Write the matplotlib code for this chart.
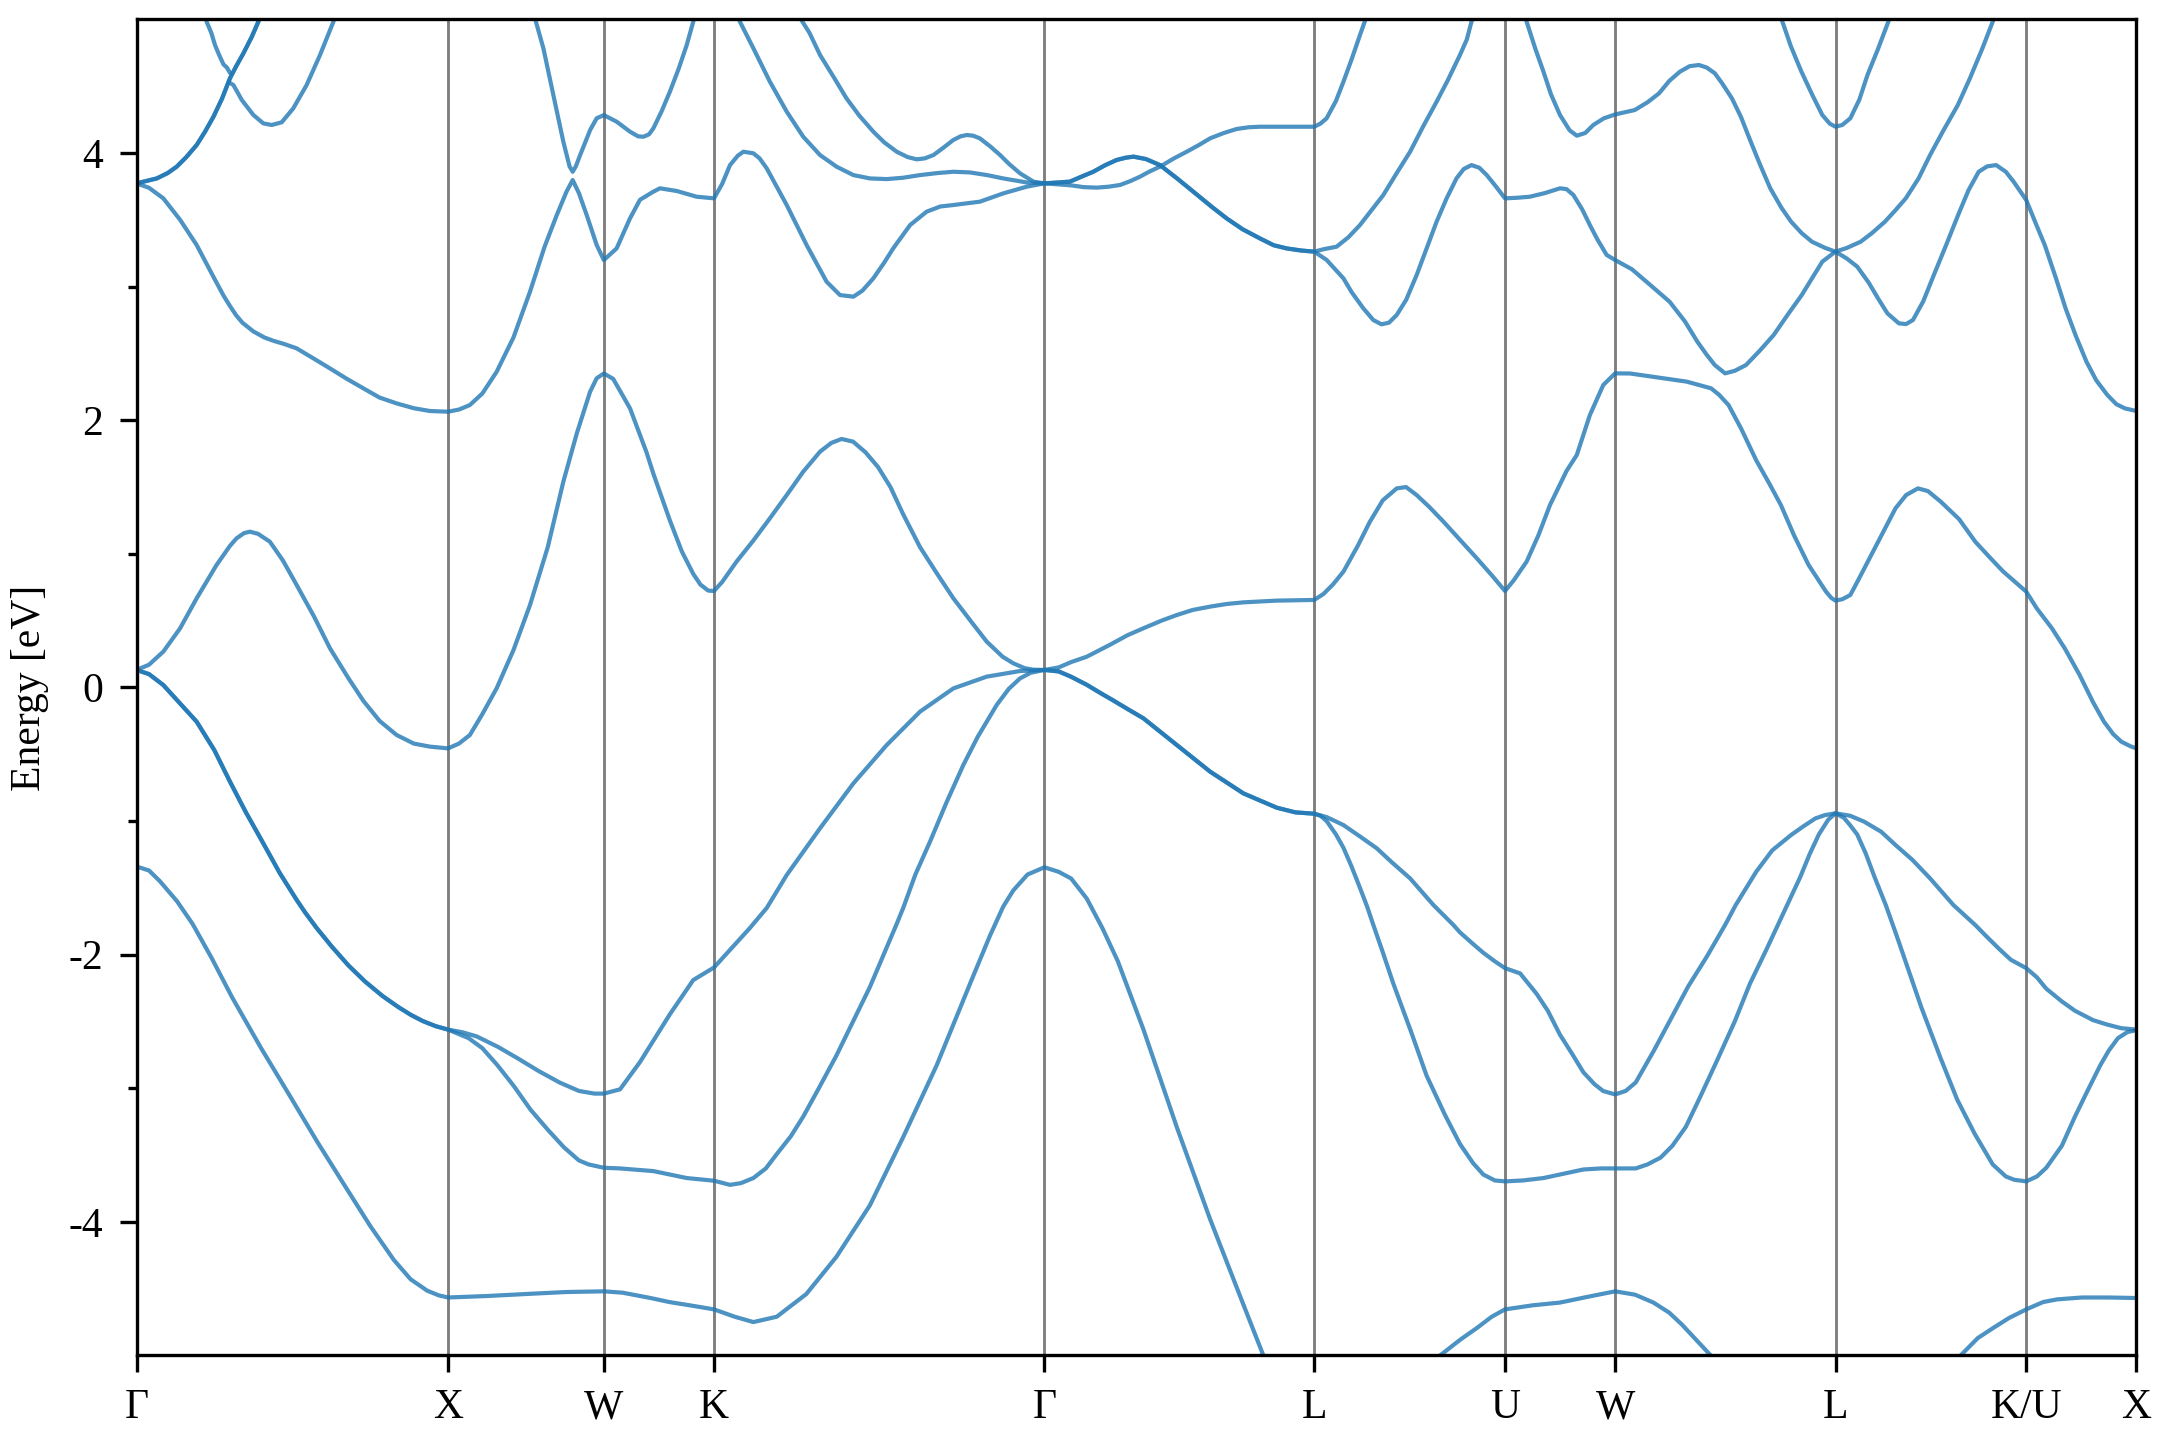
"""Electronic band structure along the FCC high-symmetry path."""

import numpy as np
import matplotlib
matplotlib.use("Agg")
import matplotlib.pyplot as plt

plt.rcParams["font.family"] = ["Liberation Serif", "DejaVu Serif"]
plt.rcParams["axes.unicode_minus"] = False

# high-symmetry path, segment lengths in units of 2*pi/a
seg_len = [1.0, 0.5, 0.3536, 1.0607, 0.8660, 0.6124, 0.3536, 0.7071, 0.6124, 0.3536]
node_labels = ["Γ", "X", "W", "K", "Γ", "L", "U", "W", "L", "K/U", "X"]
node_k = np.concatenate([[0.0], np.cumsum(seg_len)])

nan = np.nan

# lowest band (three visible pieces)
b1_k = [0, 0.04, 0.075, 0.13, 0.18, 0.24, 0.307, 0.40, 0.493, 0.58, 0.666, 0.75, 0.826, 0.88,
        0.933, 0.97, 1.0, 1.125, 1.25, 1.38, 1.5, 1.56, 1.65, 1.71, 1.79, 1.8536, 1.92, 1.98,
        2.055, 2.15, 2.247, 2.354, 2.461, 2.568, 2.675, 2.739, 2.782, 2.814, 2.86, 2.9142, 2.96,
        3.0, 3.05, 3.10, 3.15, 3.232, 3.339, 3.446, 3.553, 3.617, 3.66,
        nan, 4.12, 4.184, 4.25, 4.302, 4.35, 4.3926, 4.48, 4.569, 4.66, 4.7462, 4.81, 4.869, 4.92,
        4.961, 5.053, 5.10,
        nan, 5.80, 5.855, 5.91, 5.959, 6.01, 6.0657, 6.12, 6.165, 6.245, 6.33, 6.4193]
b1_e = [-1.34, -1.37, -1.45, -1.60, -1.77, -2.02, -2.32, -2.70, -3.06, -3.40, -3.72, -4.03, -4.285,
        -4.43, -4.515, -4.55, -4.566, -4.555, -4.54, -4.525, -4.52, -4.53, -4.57, -4.60, -4.63,
        -4.655, -4.71, -4.75, -4.71, -4.54, -4.26, -3.876, -3.365, -2.83, -2.22, -1.86, -1.64,
        -1.52, -1.40, -1.346, -1.38, -1.43, -1.58, -1.80, -2.05, -2.56, -3.29, -3.98, -4.62, -5.0,
        -5.25,
        nan, -5.11, -5.0, -4.88, -4.795, -4.71, -4.655, -4.625, -4.604, -4.56, -4.52, -4.545,
        -4.604, -4.68, -4.77, -5.0, -5.12,
        nan, -5.14, -5.0, -4.87, -4.795, -4.72, -4.655, -4.60, -4.58, -4.566, -4.566, -4.57]

# valence pair: Gamma-X (degenerate)
vgx_k = [0, 0.04, 0.086, 0.14, 0.193, 0.25, 0.30, 0.35, 0.407, 0.46, 0.514, 0.54, 0.578, 0.627,
         0.68, 0.733, 0.79, 0.839, 0.88, 0.919, 0.96, 1.0]
vgx_e = [0.131, 0.10, 0.018, -0.12, -0.256, -0.47, -0.705, -0.93, -1.167, -1.39, -1.59, -1.68,
         -1.80, -1.94, -2.08, -2.20, -2.31, -2.39, -2.45, -2.497, -2.535, -2.561]
# X - W - K - Gamma, upper branch
vup_k = [1.0, 1.045, 1.092, 1.16, 1.225, 1.29, 1.358, 1.42, 1.47, 1.5, 1.552, 1.616, 1.66, 1.712,
         1.787, 1.8536, 1.926, 1.969, 2.023, 2.087, 2.194, 2.301, 2.408, 2.515, 2.622, 2.729,
         2.836, 2.9142]
vup_e = [-2.561, -2.58, -2.612, -2.69, -2.778, -2.87, -2.957, -3.02, -3.04, -3.04, -3.008, -2.804,
         -2.64, -2.446, -2.19, -2.096, -1.91, -1.80, -1.65, -1.404, -1.054, -0.718, -0.431,
         -0.181, -0.007, 0.081, 0.123, 0.131]
# X - W - K - Gamma, lower branch
vlo_k = [1.0, 1.03, 1.066, 1.11, 1.159, 1.21, 1.265, 1.32, 1.372, 1.42, 1.451, 1.48, 1.5, 1.552,
         1.659, 1.766, 1.8536, 1.905, 1.94, 1.98, 2.02, 2.055, 2.10, 2.14, 2.19, 2.247, 2.30,
         2.354, 2.40, 2.44, 2.461, 2.50, 2.547, 2.60, 2.654, 2.70, 2.761, 2.80, 2.836, 2.87, 2.9142]
vlo_e = [-2.561, -2.59, -2.625, -2.70, -2.829, -2.98, -3.161, -3.31, -3.442, -3.54, -3.57, -3.585,
         -3.595, -3.60, -3.62, -3.672, -3.692, -3.723, -3.71, -3.672, -3.60, -3.493, -3.36,
         -3.212, -3.0, -2.753, -2.50, -2.242, -1.99, -1.77, -1.65, -1.40, -1.154, -0.86, -0.58,
         -0.37, -0.131, -0.01, 0.068, 0.11, 0.131]
# Gamma - L (degenerate)
vgl_k = [2.9142, 2.96, 3.0, 3.05, 3.10, 3.13, 3.18, 3.232, 3.339, 3.446, 3.553, 3.66, 3.72, 3.7802]
vgl_e = [0.131, 0.12, 0.08, 0.02, -0.05, -0.09, -0.16, -0.231, -0.431, -0.63, -0.793, -0.90,
         -0.935, -0.945]
# L - U - W - L - K - X, steep branch
vst_k = [3.7802, 3.80, 3.82, 3.85, 3.874, 3.90, 3.927, 3.95, 3.97, 4.0, 4.034, 4.09, 4.141, 4.20,
         4.248, 4.29, 4.323, 4.36, 4.3926, 4.45, 4.516, 4.58, 4.644, 4.70, 4.7462, 4.812, 4.85,
         4.892, 4.93, 4.973, 5.02, 5.076, 5.13, 5.179, 5.23, 5.27, 5.30, 5.34, 5.37, 5.40, 5.43,
         5.4533, 5.48, 5.50, 5.523, 5.55, 5.579, 5.615, 5.65, 5.69, 5.729, 5.79, 5.844, 5.90,
         5.958, 6.0, 6.027, 6.0657, 6.10, 6.13, 6.18, 6.222, 6.26, 6.303, 6.33, 6.36, 6.39, 6.4193]
vst_e = [-0.945, -0.96, -1.0, -1.10, -1.20, -1.34, -1.50, -1.64, -1.778, -1.98, -2.216, -2.57,
         -2.906, -3.20, -3.417, -3.56, -3.646, -3.69, -3.697, -3.69, -3.672, -3.64, -3.608, -3.60,
         -3.60, -3.60, -3.57, -3.519, -3.43, -3.289, -3.06, -2.778, -2.50, -2.216, -1.97, -1.77,
         -1.62, -1.42, -1.25, -1.10, -0.99, -0.942, -0.975, -1.03, -1.10, -1.24, -1.42, -1.63,
         -1.86, -2.13, -2.395, -2.77, -3.085, -3.34, -3.57, -3.66, -3.685, -3.697, -3.66, -3.595,
         -3.43, -3.212, -3.03, -2.829, -2.72, -2.625, -2.58, -2.565]
# L - U - W - L - K - X, gradual branch
vgr_k = [3.7802, 3.82, 3.874, 3.93, 3.981, 4.03, 4.088, 4.163, 4.227, 4.248, 4.29, 4.323, 4.36,
         4.3926, 4.441, 4.494, 4.53, 4.569, 4.61, 4.644, 4.68, 4.708, 4.7462, 4.78, 4.812, 4.87,
         4.927, 4.98, 5.041, 5.099, 5.133, 5.199, 5.25, 5.311, 5.35, 5.389, 5.42, 5.4533, 5.50,
         5.545, 5.60, 5.646, 5.70, 5.757, 5.832, 5.902, 5.936, 5.98, 6.016, 6.0657, 6.10, 6.13,
         6.18, 6.222, 6.28, 6.325, 6.37, 6.4193]
vgr_e = [-0.945, -0.97, -1.03, -1.12, -1.204, -1.31, -1.429, -1.629, -1.778, -1.833, -1.92,
         -1.986, -2.05, -2.101, -2.14, -2.293, -2.42, -2.599, -2.75, -2.88, -2.97, -3.021, -3.046,
         -3.02, -2.957, -2.72, -2.472, -2.24, -2.012, -1.778, -1.629, -1.379, -1.22, -1.104,
         -1.04, -0.98, -0.955, -0.942, -0.96, -1.004, -1.08, -1.179, -1.29, -1.429, -1.629,
         -1.778, -1.859, -1.96, -2.038, -2.101, -2.17, -2.255, -2.35, -2.42, -2.49, -2.523,
         -2.55, -2.561]

# band crossing the Fermi level
b3_k = [0, 0.04, 0.086, 0.14, 0.193, 0.257, 0.30, 0.321, 0.345, 0.364, 0.39, 0.428, 0.47, 0.514,
        0.57, 0.621, 0.68, 0.728, 0.78, 0.835, 0.89, 0.942, 1.0, 1.035, 1.07, 1.11, 1.156, 1.21,
        1.263, 1.32, 1.37, 1.413, 1.456, 1.477, 1.5, 1.53, 1.584, 1.637, 1.659, 1.712, 1.75,
        1.787, 1.81, 1.835, 1.8536, 1.88, 1.926, 1.98, 2.033, 2.087, 2.14, 2.194, 2.23, 2.263,
        2.30, 2.34, 2.38, 2.42, 2.46, 2.515, 2.57, 2.622, 2.68, 2.729, 2.78, 2.814, 2.85, 2.878,
        2.9142, 2.96, 3.0, 3.05, 3.10, 3.125, 3.18, 3.232, 3.29, 3.339, 3.39, 3.446, 3.50, 3.553,
        3.66, 3.7802, 3.81, 3.84, 3.874, 3.92, 3.959, 4.0, 4.045, 4.075, 4.109, 4.15, 4.195,
        4.25, 4.302, 4.35, 4.3926, 4.42, 4.462, 4.50, 4.537, 4.59, 4.623, 4.665, 4.708, 4.7462,
        4.794, 4.865, 4.976, 5.054, 5.08, 5.11, 5.15, 5.199, 5.24, 5.278, 5.32, 5.367, 5.40,
        5.423, 5.44, 5.4533, 5.475, 5.501, 5.53, 5.568, 5.61, 5.646, 5.68, 5.718, 5.75, 5.791,
        5.85, 5.902, 5.95, 5.992, 6.03, 6.0657, 6.10, 6.148, 6.19, 6.237, 6.28, 6.315, 6.345,
        6.371, 6.40, 6.4193]
b3_e = [0.131, 0.17, 0.268, 0.443, 0.667, 0.917, 1.06, 1.116, 1.155, 1.166, 1.15, 1.091, 0.95,
        0.767, 0.53, 0.293, 0.07, -0.10, -0.25, -0.356, -0.42, -0.443, -0.456, -0.42, -0.356,
        -0.20, -0.006, 0.28, 0.617, 1.05, 1.54, 1.90, 2.214, 2.314, 2.35, 2.31, 2.089, 1.76,
        1.60, 1.25, 1.02, 0.85, 0.77, 0.725, 0.722, 0.79, 0.942, 1.10, 1.266, 1.44, 1.615,
        1.765, 1.83, 1.86, 1.84, 1.76, 1.65, 1.50, 1.30, 1.05, 0.85, 0.667, 0.49, 0.343, 0.23,
        0.181, 0.145, 0.133, 0.131, 0.15, 0.19, 0.23, 0.29, 0.32, 0.39, 0.443, 0.50, 0.542, 0.58,
        0.605, 0.625, 0.637, 0.65, 0.655, 0.70, 0.77, 0.867, 1.06, 1.241, 1.40, 1.49, 1.50,
        1.44, 1.35, 1.241, 1.10, 0.967, 0.84, 0.722, 0.80, 0.942, 1.14, 1.366, 1.62, 1.74,
        2.039, 2.264, 2.351, 2.35, 2.326, 2.289, 2.239, 2.19, 2.114, 1.94, 1.70, 1.53, 1.366,
        1.14, 0.917, 0.80, 0.717, 0.67, 0.65, 0.66, 0.692, 0.82, 0.991, 1.18, 1.341, 1.44, 1.49,
        1.47, 1.391, 1.26, 1.091, 0.97, 0.867, 0.79, 0.717, 0.59, 0.443, 0.29, 0.093, -0.11,
        -0.256, -0.35, -0.406, -0.44, -0.456]

# first conduction-like band from Gamma 3.77
b4_k = [0, 0.04, 0.086, 0.14, 0.193, 0.25, 0.28, 0.30, 0.32, 0.34, 0.375, 0.41, 0.439, 0.475,
        0.514, 0.57, 0.621, 0.675, 0.728, 0.78, 0.835, 0.89, 0.942, 1.0, 1.035, 1.07, 1.11,
        1.156, 1.21, 1.263, 1.31, 1.349, 1.38, 1.40, 1.42, 1.445, 1.477, 1.5, 1.541, 1.584,
        1.616, 1.659, 1.68, 1.734, 1.798, 1.8536, 1.88, 1.905, 1.93, 1.948, 1.98, 2.0, 2.023,
        2.087, 2.151, 2.215, 2.258, 2.301, 2.33, 2.365, 2.40, 2.429, 2.483, 2.536, 2.58, 2.622,
        2.707, 2.782, 2.857, 2.9142, 2.96, 3.0, 3.04, 3.082, 3.12, 3.157, 3.19, 3.221, 3.25,
        3.285, 3.33, 3.371, 3.41, 3.446, 3.49, 3.531, 3.57, 3.606, 3.713, 3.7802, 3.80, 3.82,
        3.85, 3.874, 3.90, 3.927, 3.954]
b4_e = [3.773, 3.74, 3.661, 3.50, 3.312, 3.06, 2.93, 2.855, 2.785, 2.73, 2.665, 2.62, 2.595,
        2.57, 2.538, 2.46, 2.388, 2.31, 2.239, 2.17, 2.126, 2.09, 2.069, 2.064, 2.08, 2.114,
        2.20, 2.363, 2.62, 2.962, 3.30, 3.536, 3.71, 3.798, 3.70, 3.536, 3.312, 3.199, 3.286,
        3.511, 3.65, 3.711, 3.736, 3.716, 3.673, 3.661, 3.77, 3.91, 3.98, 4.01, 3.998, 3.96,
        3.885, 3.611, 3.311, 3.037, 2.937, 2.925, 2.97, 3.062, 3.18, 3.287, 3.461, 3.561, 3.60,
        3.611, 3.636, 3.698, 3.748, 3.773, 3.765, 3.758, 3.745, 3.741, 3.748, 3.761, 3.79,
        3.823, 3.86, 3.898, 3.96, 4.010, 4.06, 4.110, 4.15, 4.18, 4.193, 4.197, 4.197, 4.197,
        4.22, 4.26, 4.39, 4.534, 4.70, 4.883, 5.06]

# Gamma - L degenerate pair near 3.3-4 eV
cgl_k = [2.9142, 2.96, 2.996, 3.03, 3.071, 3.11, 3.146, 3.175, 3.20, 3.24, 3.285, 3.34, 3.392,
         3.45, 3.499, 3.55, 3.606, 3.65, 3.692, 3.74, 3.7802]
cgl_e = [3.773, 3.78, 3.786, 3.82, 3.86, 3.91, 3.948, 3.965, 3.973, 3.955, 3.91, 3.81, 3.711,
         3.60, 3.511, 3.43, 3.361, 3.31, 3.286, 3.27, 3.262]

b5a_k = [1.926, 1.98, 2.033, 2.087, 2.14, 2.194, 2.247, 2.301, 2.354, 2.408, 2.46, 2.515, 2.57,
         2.622, 2.675, 2.73, 2.782, 2.857, 2.9142]
b5a_e = [5.033, 4.784, 4.534, 4.31, 4.122, 3.985, 3.898, 3.835, 3.81, 3.805, 3.815, 3.835, 3.85,
         3.86, 3.855, 3.835, 3.81, 3.78, 3.773]
b5b_k = [3.7802, 3.82, 3.874, 3.90, 3.938, 3.97, 3.996, 4.02, 4.045, 4.075, 4.109, 4.14, 4.173,
         4.205, 4.237, 4.26, 4.285, 4.31, 4.334, 4.36, 4.3926, 4.43, 4.472, 4.52, 4.569, 4.59,
         4.612, 4.64, 4.665, 4.69, 4.719, 4.7462, 4.80, 4.86, 4.921, 4.97, 5.01, 5.04, 5.066,
         5.099, 5.13, 5.166, 5.21, 5.255, 5.30, 5.345, 5.38, 5.411, 5.4533, 5.49, 5.523, 5.56,
         5.59, 5.62, 5.657, 5.68, 5.702, 5.735, 5.769, 5.81, 5.847, 5.88, 5.913, 5.94, 5.969,
         6.0, 6.025, 6.0657, 6.095, 6.125, 6.16, 6.192, 6.225, 6.259, 6.29, 6.326, 6.355, 6.382,
         6.4193]
b5b_e = [3.262, 3.20, 3.062, 2.96, 2.837, 2.75, 2.718, 2.73, 2.788, 2.90, 3.087, 3.28, 3.486,
         3.66, 3.811, 3.88, 3.91, 3.89, 3.835, 3.76, 3.661, 3.665, 3.673, 3.70, 3.736, 3.73,
         3.686, 3.58, 3.461, 3.35, 3.237, 3.199, 3.13, 3.01, 2.887, 2.74, 2.588, 2.49, 2.413,
         2.351, 2.37, 2.413, 2.52, 2.638, 2.79, 2.937, 3.07, 3.187, 3.262, 3.21, 3.15, 3.03,
         2.912, 2.80, 2.725, 2.72, 2.75, 2.89, 3.087, 3.32, 3.536, 3.72, 3.86, 3.90, 3.91, 3.86,
         3.786, 3.648, 3.48, 3.312, 3.07, 2.837, 2.63, 2.438, 2.30, 2.189, 2.12, 2.089, 2.069]

b6a_k = [2.124, 2.16, 2.194, 2.24, 2.279, 2.32, 2.365, 2.40, 2.44, 2.475, 2.504, 2.53, 2.558, 2.59,
         2.622, 2.645, 2.665, 2.685, 2.707, 2.74, 2.772, 2.80, 2.836, 2.879, 2.9142]
b6a_e = [5.033, 4.90, 4.734, 4.56, 4.409, 4.28, 4.16, 4.08, 4.01, 3.97, 3.953, 3.96, 3.985, 4.04,
         4.098, 4.125, 4.135, 4.13, 4.11, 4.05, 3.985, 3.92, 3.848, 3.786, 3.773]
b6b_k = [3.7802, 3.81, 3.852, 3.89, 3.927, 3.96, 4.002, 4.045, 4.088, 4.13, 4.173, 4.21, 4.248,
         4.27, 4.285, 4.30]
b6b_e = [3.262, 3.28, 3.299, 3.37, 3.461, 3.56, 3.686, 3.85, 4.01, 4.20, 4.384, 4.55, 4.734, 4.85,
         4.983, 5.06]

# upper bands near the first Gamma
gt_k = [0, 0.03, 0.065, 0.10, 0.129, 0.16, 0.193, 0.22, 0.247, 0.275, 0.30, 0.32, 0.343, 0.37,
        0.391, 0.402]
gt_e = [3.773, 3.79, 3.81, 3.85, 3.898, 3.97, 4.06, 4.16, 4.272, 4.41, 4.56, 4.65, 4.746, 4.87,
        4.983, 5.045]
gu_k = [0.222, 0.225, 0.24, 0.252, 0.266, 0.279, 0.29, 0.300]
gu_e = [5.05, 4.983, 4.90, 4.808, 4.73, 4.664, 4.64, 4.60]
gl_k = [0.296, 0.311, 0.338, 0.375, 0.407, 0.434, 0.466, 0.503, 0.546, 0.589, 0.632, 0.640]
gl_e = [4.53, 4.509, 4.397, 4.285, 4.222, 4.21, 4.23, 4.334, 4.509, 4.734, 4.983, 5.045]

# upper band around the first W
xw_k = [1.276, 1.306, 1.338, 1.370, 1.390, 1.400, 1.41, 1.424, 1.456, 1.477, 1.5, 1.541, 1.584,
        1.61, 1.627, 1.645, 1.659, 1.685, 1.712, 1.74, 1.766, 1.787, 1.792]
xw_e = [5.033, 4.784, 4.434, 4.085, 3.90, 3.86, 3.90, 3.985, 4.172, 4.26, 4.284, 4.235, 4.16,
        4.125, 4.122, 4.14, 4.185, 4.31, 4.459, 4.63, 4.808, 4.983, 5.033]

# upper band around the second W and L
w4_k = [4.452, 4.462, 4.49, 4.516, 4.54, 4.569, 4.60, 4.623, 4.65, 4.676, 4.71, 4.7462, 4.809,
        4.85, 4.887, 4.92, 4.954, 4.985, 5.015, 5.04, 5.066, 5.09, 5.121, 5.15, 5.177, 5.21,
        5.244, 5.28, 5.311, 5.345, 5.378, 5.42, 5.4533, 5.49, 5.534, 5.57, 5.612, 5.645, 5.679,
        5.72, 5.757, 5.80, 5.846, 5.885, 5.925, 5.958, 5.97]
w4_e = [5.06, 4.983, 4.78, 4.609, 4.44, 4.285, 4.17, 4.13, 4.15, 4.21, 4.26, 4.289, 4.322, 4.38,
        4.447, 4.54, 4.609, 4.65, 4.659, 4.64, 4.597, 4.52, 4.409, 4.27, 4.110, 3.92, 3.736,
        3.59, 3.486, 3.40, 3.336, 3.29, 3.262, 3.29, 3.336, 3.40, 3.486, 3.57, 3.661, 3.81,
        3.985, 4.17, 4.359, 4.56, 4.784, 4.983, 5.06]
l4_k = [5.27, 5.283, 5.31, 5.344, 5.38, 5.411, 5.435, 5.4533, 5.475, 5.501, 5.53, 5.556, 5.59,
        5.623, 5.632]
l4_e = [5.06, 4.983, 4.80, 4.609, 4.43, 4.285, 4.22, 4.197, 4.21, 4.26, 4.40, 4.584, 4.78,
        4.983, 5.06]


def join(*pieces):
    """Concatenate path pieces, dropping the repeated node point."""
    k_all, e_all = list(pieces[0][0]), list(pieces[0][1])
    for k, e in pieces[1:]:
        k_all += list(k[1:])
        e_all += list(e[1:])
    return k_all, e_all


bands = [
    (b1_k, b1_e),
    join((vgx_k, vgx_e), (vup_k, vup_e), (vgl_k, vgl_e), (vst_k, vst_e)),
    join((vgx_k, vgx_e), (vlo_k, vlo_e), (vgl_k, vgl_e), (vgr_k, vgr_e)),
    (b3_k, b3_e),
    (b4_k, b4_e),
    join((b5a_k, b5a_e), (cgl_k, cgl_e), (b5b_k, b5b_e)),
    join((b6a_k, b6a_e), (cgl_k, cgl_e), (b6b_k, b6b_e)),
    (gt_k, gt_e), (gt_k, gt_e),
    (gu_k, gu_e), (gl_k, gl_e),
    (xw_k, xw_e), (w4_k, w4_e), (l4_k, l4_e),
]

fig, ax = plt.subplots(figsize=(7.2, 4.8), dpi=300)
fig.subplots_adjust(left=0.0632, right=0.9891, bottom=0.0587, top=0.9865)

for xk in node_k[1:-1]:
    ax.axvline(xk, color="#808080", lw=0.7, zorder=1)

for k, e in bands:
    ax.plot(k, e, color="#1f77b4", alpha=0.8, lw=1.0, zorder=2,
            solid_joinstyle="round", solid_capstyle="round")

ax.set_xlim(node_k[0], node_k[-1])
ax.set_ylim(-5, 5)
ax.set_xticks(node_k)
ax.set_xticklabels(node_labels)
ax.set_yticks([-4, -2, 0, 2, 4])
ax.set_yticks([-3, -1, 1, 3], minor=True)
ax.tick_params(which="major", direction="out", length=4, width=0.8, labelsize=10, pad=4)
ax.tick_params(which="minor", direction="out", length=2.2, width=0.8)
ax.set_ylabel("Energy [eV]", fontsize=10)
ax.yaxis.set_label_coords(-0.044, 0.5)
for s in ax.spines.values():
    s.set_linewidth(0.8)

fig.savefig("out.png", dpi=300)
plt.close()
